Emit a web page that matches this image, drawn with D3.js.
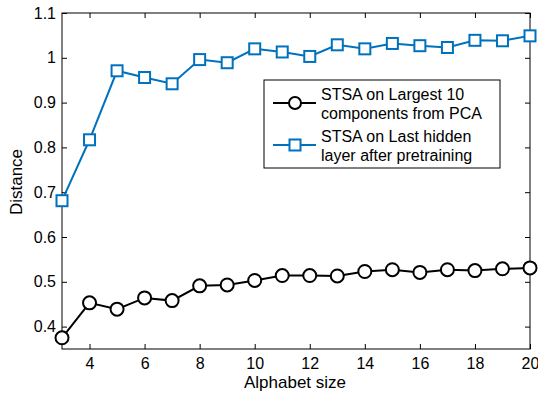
<!DOCTYPE html>
<html lang="en">
<head>
  <meta charset="UTF-8">
  <title>Distance vs alphabet size</title>
  <style>
    html, body { margin: 0; padding: 0; background: #fff; }
    svg { display: block; font-family: 'Liberation Sans', Arial, sans-serif; }
  </style>
</head>
<body>
  <svg id="chart" width="538" height="395"></svg>
  <script src="https://d3js.org/d3.v7.min.js"></script>
  <script>
    // data
    const alphabetSizes = [3, 4, 5, 6, 7, 8, 9, 10, 11, 12, 13, 14, 15, 16, 17, 18, 19, 20];
    const pcaValues = [0.375, 0.453, 0.439, 0.464, 0.458, 0.491, 0.493, 0.503, 0.514, 0.514,
                       0.513, 0.523, 0.527, 0.521, 0.527, 0.525, 0.529, 0.531];
    const hiddenValues = [0.681, 0.817, 0.971, 0.956, 0.942, 0.996, 0.989, 1.020, 1.013, 1.003,
                          1.029, 1.020, 1.032, 1.027, 1.023, 1.039, 1.038, 1.049];
    const xTicks = [4, 6, 8, 10, 12, 14, 16, 18, 20];
    const yTicks = [0.4, 0.5, 0.6, 0.7, 0.8, 0.9, 1.0, 1.1];
    const legendLines = [
      ["STSA on Largest 10", "components from PCA"],
      ["STSA on Last hidden", "layer after pretraining"]
    ];

    const blue = "#0072bd";
    const svg = d3.select("#chart");
    const m = { left: 62, right: 530, top: 13, bottom: 349 };
    const tickFont = 16, labelFont = 17;

    const x = d3.scaleLinear().domain([3, 20]).range([m.left, m.right]);
    const y = d3.scaleLinear().domain([0.35, 1.1]).range([m.bottom, m.top]);

    const fmt = d => d === 1 ? "1" : d3.format(".1f")(d);

    // axes with inward ticks, mirrored on top/right
    svg.append("g").attr("transform", `translate(0,${m.bottom})`)
      .call(d3.axisBottom(x).tickValues(xTicks).tickSizeInner(-5).tickSizeOuter(0).tickPadding(9))
      .call(g => g.selectAll("text").attr("font-size", tickFont).attr("fill", "#000").attr("font-family", "inherit"));
    svg.append("g").attr("transform", `translate(0,${m.top})`)
      .call(d3.axisTop(x).tickValues(xTicks).tickSizeInner(-5).tickSizeOuter(0).tickFormat(""));
    svg.append("g").attr("transform", `translate(${m.left},0)`)
      .call(d3.axisLeft(y).tickValues(yTicks).tickFormat(fmt).tickSizeInner(-5).tickSizeOuter(0).tickPadding(6))
      .call(g => g.selectAll("text").attr("font-size", tickFont).attr("fill", "#000").attr("font-family", "inherit"));
    svg.append("g").attr("transform", `translate(${m.right},0)`)
      .call(d3.axisRight(y).tickValues(yTicks).tickSizeInner(-5).tickSizeOuter(0).tickFormat(""));
    svg.selectAll(".domain").remove();
    svg.selectAll(".tick line").attr("stroke", "#000");

    svg.append("rect")
      .attr("x", m.left).attr("y", m.top)
      .attr("width", m.right - m.left).attr("height", m.bottom - m.top)
      .attr("fill", "none").attr("stroke", "#000").attr("stroke-width", 1);

    // axis labels
    svg.append("text").attr("x", 295).attr("y", 388)
      .attr("text-anchor", "middle").attr("font-size", labelFont).text("Alphabet size");
    svg.append("text").attr("transform", `translate(22,182) rotate(-90)`)
      .attr("text-anchor", "middle").attr("font-size", labelFont).text("Distance");

    const line = d3.line().x((d, i) => x(alphabetSizes[i])).y(d => y(d));

    // black circles series
    svg.append("path").datum(pcaValues).attr("d", line)
      .attr("fill", "none").attr("stroke", "#000").attr("stroke-width", 2);
    svg.selectAll("circle.pca").data(pcaValues).enter().append("circle")
      .attr("class", "pca")
      .attr("cx", (d, i) => x(alphabetSizes[i])).attr("cy", d => y(d))
      .attr("r", 6.5).attr("fill", "#fff").attr("stroke", "#000").attr("stroke-width", 2);

    // blue squares series
    svg.append("path").datum(hiddenValues).attr("d", line)
      .attr("fill", "none").attr("stroke", blue).attr("stroke-width", 2);
    svg.selectAll("rect.hid").data(hiddenValues).enter().append("rect")
      .attr("class", "hid")
      .attr("x", (d, i) => x(alphabetSizes[i]) - 5.5).attr("y", d => y(d) - 5.5)
      .attr("width", 11).attr("height", 11)
      .attr("fill", "#fff").attr("stroke", blue).attr("stroke-width", 2);

    // legend
    const lg = svg.append("g");
    lg.append("rect").attr("x", 264).attr("y", 80).attr("width", 236).attr("height", 88)
      .attr("fill", "#fff").attr("stroke", "#000").attr("stroke-width", 1);
    const entries = [
      { color: "#000", shape: "circle", cy: 103, lines: legendLines[0] },
      { color: blue, shape: "square", cy: 145, lines: legendLines[1] }
    ];
    entries.forEach(e => {
      lg.append("line").attr("x1", 273).attr("x2", 316).attr("y1", e.cy).attr("y2", e.cy)
        .attr("stroke", e.color).attr("stroke-width", 2);
      if (e.shape === "circle") {
        lg.append("circle").attr("cx", 295).attr("cy", e.cy).attr("r", 6)
          .attr("fill", "#fff").attr("stroke", e.color).attr("stroke-width", 2);
      } else {
        lg.append("rect").attr("x", 289.5).attr("y", e.cy - 5.5).attr("width", 11).attr("height", 11)
          .attr("fill", "#fff").attr("stroke", e.color).attr("stroke-width", 2);
      }
      e.lines.forEach((t, k) => {
        lg.append("text").attr("x", 321).attr("y", e.cy - 3 + k * 18.5)
          .attr("font-size", tickFont).text(t);
      });
    });
  </script>
</body>
</html>
